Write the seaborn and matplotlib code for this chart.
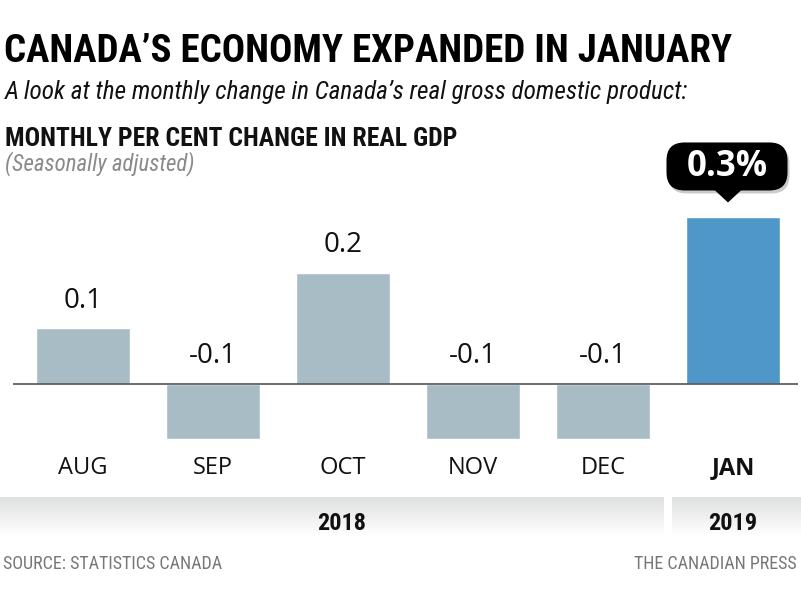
import numpy as np
import pandas as pd
import seaborn as sns
import matplotlib
matplotlib.use('Agg')
import matplotlib.pyplot as plt
from matplotlib.patches import FancyBboxPatch, Polygon
from matplotlib.colors import LinearSegmentedColormap

# data
months = ['AUG', 'SEP', 'OCT', 'NOV', 'DEC', 'JAN']
values = [0.1, -0.1, 0.2, -0.1, -0.1, 0.3]
years = ['2018', '2019']
year_span = [5, 1]  # number of months in each year

GREY_BAR = '#a8bcc6'
BLUE_BAR = '#4f97c8'
NARROW = ['Liberation Sans Narrow', 'Roboto Condensed', 'DejaVu Sans']
BODY = ['Open Sans', 'DejaVu Sans']

sns.set_style('white')
plt.rcParams['font.family'] = BODY

W, H = 801, 590
fig = plt.figure(figsize=(W / 100, H / 100), dpi=100)

# overlay in pixel coords for decorations
ov = fig.add_axes([0, 0, 1, 1], zorder=0)
ov.set_xlim(0, W)
ov.set_ylim(H, 0)
ov.axis('off')

# main bar axes
ax = fig.add_axes([13 / W, 1 - 455 / H, 785 / W, 265 / H], zorder=1)
ax.patch.set_alpha(0)
df = pd.DataFrame({'month': months, 'value': values})
palette = [GREY_BAR] * (len(months) - 1) + [BLUE_BAR]
sns.barplot(data=df, x='month', y='value', hue='month', palette=palette,
            legend=False, width=0.723, saturation=1, ax=ax)
ax.set_xlim(-0.538, 5.5)
ax.set_ylim(-0.128, 0.3495)
ax.axhline(0, color='#555555', lw=1.2, zorder=3)
for s in ax.spines.values():
    s.set_visible(False)
ax.set_xlabel('')
ax.set_ylabel('')
ax.set_yticks([])
ax.set_xticks([])

# value labels (all but the highlighted last month)
for i, v in enumerate(values[:-1]):
    ax.annotate(f'{v:.1f}', (i, max(v, 0)), xytext=(0, 20), textcoords='offset points',
                ha='center', va='center', fontsize=20, color='#111111')

# month labels
for i, m in enumerate(months):
    ax.annotate(m, (i, 0), xytext=(0, -60.5), textcoords='offset points',
                ha='center', va='center', fontsize=17, color='#111111',
                fontweight='bold' if i == len(months) - 1 else 'normal')

# callout for the last month
bx, by = ax.transData.transform((len(values) - 1, values[-1]))
px, py = bx, H - by
cx, cy = px - 6, py - 51
bw, bh = 121, 48
for off, col, a in [((2, 3), '#999999', 0.5), ((0, 0), 'black', 1)]:
    box = FancyBboxPatch((cx - bw / 2 + 18 + off[0], cy - bh / 2 + 18 + off[1]), bw - 36, bh - 36,
                         boxstyle='round,pad=18', fc=col, ec='none', alpha=a)
    ov.add_patch(box)
ov.add_patch(Polygon([[px - 19, cy + bh / 2 - 1], [px + 9, cy + bh / 2 - 1], [px - 5, py - 15]],
                     closed=True, fc='black', ec='none'))
ov.text(cx, cy + 1, f'{values[-1]:.1f}%', ha='center', va='center', fontsize=25,
        fontweight='bold', color='white')

# year bands with vertical gradient
grad = LinearSegmentedColormap.from_list('band', ['#dfe0e0', '#ffffff'])
g = np.linspace(0, 1, 64).reshape(-1, 1)
month_px = [ax.transData.transform((i, 0))[0] for i in range(len(months))]
start = 0
band_edges = [(0, 664), (672, W)]
for (x0, x1), yr, n in zip(band_edges, years, year_span):
    ov.imshow(g, cmap=grad, aspect='auto', extent=[x0, x1, 536, 497], zorder=0)
    if n > 1:
        centre = (x0 + x1) / 2 + 10
    else:
        centre = month_px[start]
    ov.text(centre, 523, yr, ha='center', va='center', fontsize=17.5,
            fontweight='bold', color='#111111', family=NARROW)
    start += n
ov.set_xlim(0, W)
ov.set_ylim(H, 0)

# titles
fig.text(4 / W, 1 - 51 / H, 'CANADA’S ECONOMY EXPANDED IN JANUARY', family=NARROW,
         fontsize=28, fontweight='bold', color='black', va='center', ha='left')
fig.text(5 / W, 1 - 92 / H, 'A look at the monthly change in Canada’s real gross domestic product:',
         family=NARROW, fontsize=18.2, style='italic', color='#111111', va='center', ha='left')
fig.text(5 / W, 1 - 139 / H, 'MONTHLY PER CENT CHANGE IN REAL GDP', family=NARROW,
         fontsize=18.5, fontweight='bold', color='#111111', va='center', ha='left')
fig.text(5 / W, 1 - 164 / H, '(Seasonally adjusted)', family=NARROW,
         fontsize=16.5, style='italic', color='#8a8a8a', va='center', ha='left')

# footer
fig.text(3 / W, 1 - 564 / H, 'SOURCE: STATISTICS CANADA', family=NARROW,
         fontsize=13, color='#777777', va='center', ha='left')
fig.text(797 / W, 1 - 564 / H, 'THE CANADIAN PRESS', family=NARROW,
         fontsize=13, color='#777777', va='center', ha='right')

fig.savefig('out.png', dpi=100)
